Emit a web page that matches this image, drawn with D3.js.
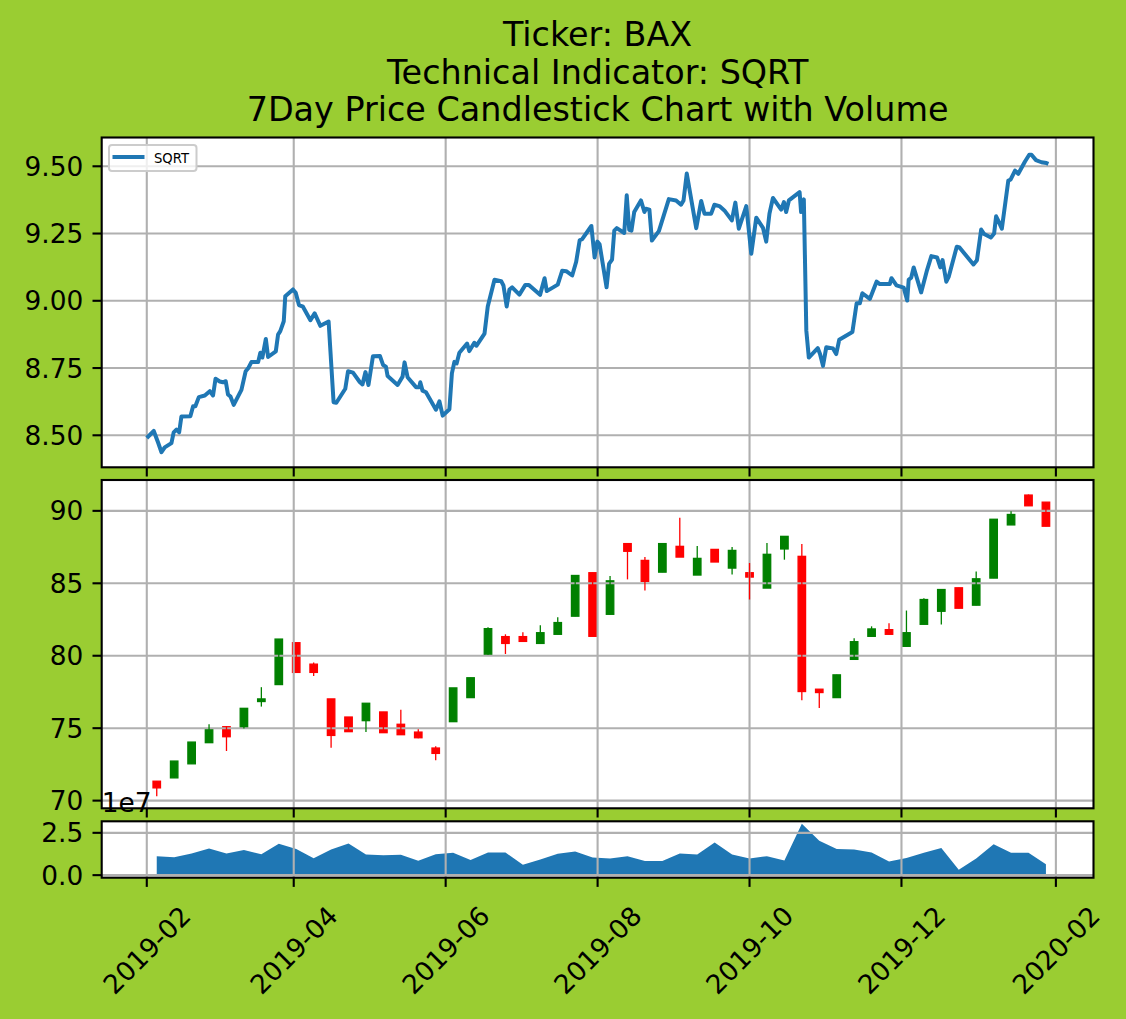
<!DOCTYPE html>
<html><head><meta charset="utf-8">
<script src="https://cdn.jsdelivr.net/npm/d3@7"></script>
<style>
body{margin:0;background:#9acd32}
svg{display:block}
text{font-family:"DejaVu Sans",sans-serif;fill:#000}
</style></head>
<body><svg id="chart" width="1126" height="1019"></svg>
<script>
// ---------------- DATA ----------------
const titleLines = ["Ticker: BAX", "Technical Indicator: SQRT", "7Day Price Candlestick Chart with Volume"];
const baseDate = "2019-02-01";           // day offsets below are counted from this date
const sqrtDays = [0,2.8,4.5,5.9,7.2,9.9,10.8,11.9,13.0,13.9,17.5,18.6,19.5,20.9,23.3,25.3,26.6,27.6,29.3,30.6,31.7,32.6,33.6,34.9,38.0,39.7,40.7,42.0,44.7,45.6,46.4,47.8,48.7,51.8,52.7,53.6,55.0,55.6,58.7,59.8,61.1,62.7,65.7,67.4,69.7,73.0,75.0,76.1,79.7,80.8,82.8,85.5,86.6,87.8,89.0,90.8,93.6,94.9,96.0,96.7,100.7,102.7,103.5,104.7,108.1,109.4,109.8,110.7,112.1,116.1,117.5,118.8,121.5,122.5,123.5,124.4,125.5,128.6,129.5,131.5,132.4,135.6,136.9,139.6,142.3,143.2,144.5,145.6,146.7,149.6,152.0,153.4,157.9,159.7,160.6,162.8,165.0,166.8,168.4,170.8,172.4,173.8,174.8,178.5,179.8,180.9,181.8,184.6,185.6,186.8,187.7,188.7,191.7,192.7,193.7,194.6,195.7,198.4,199.8,200.4,201.8,202.8,205.6,209.6,212.5,214.5,215.5,216.8,220.6,222.6,223.9,226.6,227.9,229.9,231.9,234.9,236.3,237.7,240.7,242.7,244.7,247.4,248.7,250.0,251.4,254.7,255.8,256.7,257.8,262.1,262.7,263.8,264.8,265.8,269.4,270.3,271.5,272.8,275.5,276.8,278.0,283.3,285.0,286.3,287.3,290.3,293.0,294.3,298.3,299.0,301.0,303.9,305.3,305.9,306.9,307.9,310.9,313.3,315.0,317.3,318.6,319.5,321.0,322.0,325.2,326.3,331.9,333.3,335.0,336.2,338.9,340.2,341.0,341.9,343.3,345.9,346.8,348.6,349.9,352.6,354.3,355.2,357.0,359.2,361.2,362];
const sqrtValues = [8.490,8.516,8.474,8.437,8.455,8.471,8.511,8.521,8.511,8.570,8.571,8.608,8.608,8.642,8.648,8.664,8.648,8.710,8.700,8.697,8.701,8.652,8.644,8.613,8.669,8.738,8.749,8.772,8.772,8.807,8.789,8.858,8.791,8.812,8.874,8.887,8.924,9.017,9.042,9.030,8.984,8.978,8.928,8.953,8.907,8.923,8.623,8.621,8.673,8.738,8.733,8.698,8.689,8.735,8.687,8.794,8.795,8.761,8.755,8.720,8.687,8.718,8.771,8.716,8.679,8.679,8.697,8.666,8.660,8.595,8.626,8.573,8.597,8.730,8.773,8.767,8.807,8.841,8.813,8.844,8.833,8.878,8.979,9.078,9.073,9.057,8.979,9.042,9.050,9.023,9.059,9.059,9.022,9.084,9.036,9.048,9.060,9.112,9.110,9.094,9.145,9.225,9.229,9.278,9.161,9.220,9.210,9.050,9.137,9.153,9.261,9.270,9.252,9.392,9.264,9.261,9.330,9.373,9.330,9.342,9.339,9.224,9.259,9.378,9.373,9.357,9.373,9.473,9.270,9.371,9.324,9.324,9.357,9.352,9.336,9.299,9.365,9.268,9.352,9.175,9.309,9.271,9.220,9.324,9.382,9.339,9.367,9.330,9.373,9.404,9.330,9.377,8.889,8.789,8.824,8.802,8.758,8.827,8.823,8.802,8.855,8.884,8.991,8.991,9.028,9.007,9.071,9.062,9.062,9.084,9.057,9.049,9.001,9.078,9.086,9.124,9.031,9.115,9.166,9.161,9.124,9.151,9.071,9.090,9.201,9.198,9.135,9.151,9.265,9.248,9.235,9.250,9.314,9.297,9.268,9.447,9.450,9.484,9.472,9.518,9.543,9.543,9.523,9.515,9.512,9.509];

const candleDates = ["2019-02-05","2019-02-12","2019-02-19","2019-02-26","2019-03-05","2019-03-12","2019-03-19","2019-03-26","2019-04-02","2019-04-09","2019-04-16","2019-04-23","2019-04-30","2019-05-07","2019-05-14","2019-05-21","2019-05-28","2019-06-04","2019-06-11","2019-06-18","2019-06-25","2019-07-02","2019-07-09","2019-07-16","2019-07-23","2019-07-30","2019-08-06","2019-08-13","2019-08-20","2019-08-27","2019-09-03","2019-09-10","2019-09-17","2019-09-24","2019-10-01","2019-10-08","2019-10-15","2019-10-22","2019-10-29","2019-11-05","2019-11-12","2019-11-19","2019-11-26","2019-12-03","2019-12-10","2019-12-17","2019-12-24","2019-12-31","2020-01-07","2020-01-14","2020-01-21","2020-01-28"];
const candleOpen  = [71.34,71.57,72.54,74.00,75.10,75.03,76.84,78.01,80.90,79.42,77.02,75.77,75.52,76.12,75.27,74.73,73.63,75.45,77.11,80.07,81.32,81.32,80.85,81.48,82.73,85.73,82.86,87.74,86.58,85.77,87.55,85.57,87.34,86.05,85.73,84.67,87.37,86.86,77.69,77.11,79.75,81.34,81.80,80.65,82.17,83.07,84.69,83.49,85.36,89.03,91.09,90.60];
const candleHigh  = [71.34,72.73,74.04,75.27,75.15,76.37,77.83,81.15,80.90,79.54,77.02,75.77,76.72,76.12,76.28,74.92,73.76,77.78,78.48,81.96,81.48,81.62,82.10,82.66,85.54,85.73,85.50,87.74,86.81,87.74,89.52,87.58,87.34,87.51,86.40,87.78,88.24,87.71,77.69,78.68,81.20,82.03,82.24,83.12,83.97,84.57,84.69,85.82,89.42,89.98,91.13,90.60];
const candleLow   = [70.30,71.57,72.54,74.00,73.42,74.98,76.49,78.01,78.85,78.61,73.65,74.76,74.73,74.69,74.55,74.30,72.79,75.45,77.11,80.07,80.12,80.99,80.85,81.48,82.73,81.34,82.86,85.27,84.50,85.77,86.81,85.57,86.47,85.61,83.88,84.67,86.63,76.93,76.40,77.11,79.75,81.34,81.48,80.65,82.17,82.15,83.28,83.49,85.36,89.03,90.35,88.94];
const candleClose = [70.88,72.73,74.04,74.97,74.41,76.37,77.02,81.15,78.85,78.85,74.50,74.76,76.72,74.69,74.55,74.34,73.26,77.78,78.48,81.87,80.85,80.99,81.59,82.29,85.54,81.34,85.17,87.21,85.13,87.74,86.81,86.72,86.47,87.27,85.43,87.00,88.24,77.53,77.46,78.68,80.97,81.85,81.48,81.59,83.88,84.57,83.28,85.31,89.42,89.75,90.35,88.94];
const volume = [1.12,1.06,1.28,1.58,1.28,1.48,1.24,1.85,1.54,1.00,1.52,1.87,1.22,1.18,1.20,0.85,1.24,1.32,0.89,1.34,1.34,0.61,0.93,1.26,1.40,1.04,0.98,1.12,0.83,0.83,1.28,1.22,1.93,1.22,0.98,1.12,0.87,3.03,2.03,1.54,1.52,1.34,0.81,1.02,1.32,1.60,0.32,0.98,1.83,1.32,1.32,0.65]; // x 1e7

const xTickDates  = ["2019-02-01","2019-04-01","2019-06-01","2019-08-01","2019-10-01","2019-12-01","2020-02-01"];
const xTickLabels = ["2019-02","2019-04","2019-06","2019-08","2019-10","2019-12","2020-02"];
const topTicks = [8.50, 8.75, 9.00, 9.25, 9.50];
const midTicks = [70, 75, 80, 85, 90];
const volTicks = [0.0, 2.5];
const legendLabel = "SQRT";
const volOffsetLabel = "1e7";

// ---------------- LAYOUT ----------------
const DAY = 864e5;
const parse = d3.utcParse("%Y-%m-%d");
const base = parse(baseDate);
const lineDates = sqrtDays.map(d => new Date(+base + d * DAY));
const cDates = candleDates.map(parse);

const L = 101.7, R = 1093.5;
const panels = {
  top: {y0: 137.5, y1: 467.3},
  mid: {y0: 480, y1: 808.3},
  vol: {y0: 821.3, y1: 877.7}
};
const GRID = "#b0b0b0", LW = 2.1, TICK = 9.2, FS = 26.4;

const ext = d3.extent(lineDates);
const pad = (ext[1] - ext[0]) * 0.05;
const x = d3.scaleUtc().domain([new Date(+ext[0] - pad), new Date(+ext[1] + pad)]).range([L, R]);

const yTop = d3.scaleLinear().domain([8.381, 9.607]).range([panels.top.y1, panels.top.y0]);
const yMid = d3.scaleLinear().domain([69.47, 92.13]).range([panels.mid.y1, panels.mid.y0]);
const volMax = d3.max(volume);
const yVol = d3.scaleLinear().domain([-volMax * 0.05, volMax * 1.05]).range([panels.vol.y1, panels.vol.y0]);

const svg = d3.select("#chart");
const defs = svg.append("defs");

function panel(name, p, yScale, yTicks, fmt, drawBelow, drawAbove) {
  const g = svg.append("g");
  defs.append("clipPath").attr("id", "clip-" + name)
    .append("rect").attr("x", L).attr("y", p.y0).attr("width", R - L).attr("height", p.y1 - p.y0);
  g.append("rect").attr("x", L).attr("y", p.y0).attr("width", R - L).attr("height", p.y1 - p.y0).attr("fill", "#fff");
  const inner = g.append("g").attr("clip-path", "url(#clip-" + name + ")");
  if (drawBelow) drawBelow(inner);
  const xt = xTickDates.map(parse);
  inner.selectAll(".gx").data(xt).join("line")
    .attr("x1", d => x(d)).attr("x2", d => x(d)).attr("y1", p.y0).attr("y2", p.y1)
    .attr("stroke", GRID).attr("stroke-width", LW);
  inner.selectAll(".gy").data(yTicks).join("line")
    .attr("x1", L).attr("x2", R).attr("y1", d => yScale(d)).attr("y2", d => yScale(d))
    .attr("stroke", GRID).attr("stroke-width", LW);
  if (drawAbove) drawAbove(inner);
  g.append("rect").attr("x", L).attr("y", p.y0).attr("width", R - L).attr("height", p.y1 - p.y0)
    .attr("fill", "none").attr("stroke", "#000").attr("stroke-width", LW);
  g.selectAll(".tx").data(xt).join("line")
    .attr("x1", d => x(d)).attr("x2", d => x(d)).attr("y1", p.y1).attr("y2", p.y1 + TICK)
    .attr("stroke", "#000").attr("stroke-width", LW);
  g.selectAll(".ty").data(yTicks).join("line")
    .attr("x1", L - TICK).attr("x2", L).attr("y1", d => yScale(d)).attr("y2", d => yScale(d))
    .attr("stroke", "#000").attr("stroke-width", LW);
  g.selectAll(".tl").data(yTicks).join("text")
    .attr("x", L - TICK - 9.2).attr("y", d => yScale(d)).attr("dy", "0.36em")
    .attr("text-anchor", "end").attr("font-size", FS).text(fmt);
  return g;
}

// title
svg.selectAll(".title").data(titleLines).join("text")
  .attr("x", (L + R) / 2).attr("y", (d, i) => 46 + i * 37.6)
  .attr("text-anchor", "middle").attr("font-size", 33.4).text(d => d);

// top panel
const gTop = panel("top", panels.top, yTop, topTicks, d3.format(".2f"), null, inner => {
  inner.append("path")
    .datum(lineDates.map((d, i) => [d, sqrtValues[i]]))
    .attr("fill", "none").attr("stroke", "#1f77b4").attr("stroke-width", 4)
    .attr("stroke-linejoin", "round")
    .attr("d", d3.line().x(d => x(d[0])).y(d => yTop(d[1])));
});
// legend
const lg = gTop.append("g");
lg.append("rect").attr("x", 109).attr("y", 145).attr("width", 87.5).attr("height", 26).attr("rx", 3)
  .attr("fill", "#fff").attr("fill-opacity", 0.8).attr("stroke", "#cccccc").attr("stroke-width", 2);
lg.append("line").attr("x1", 112.5).attr("x2", 144.5).attr("y1", 157).attr("y2", 157)
  .attr("stroke", "#1f77b4").attr("stroke-width", 4);
lg.append("text").attr("x", 154).attr("y", 162.5).attr("font-size", 13.2).text(legendLabel);

// candle panel
const bodyW = x(new Date(+cDates[0] + 3 * DAY)) - x(cDates[0]);
const candles = cDates.map((d, i) => ({d, o: candleOpen[i], h: candleHigh[i], l: candleLow[i], c: candleClose[i]}));
const col = c => c.c >= c.o ? "#008000" : "#ff0000";
panel("mid", panels.mid, yMid, midTicks, d3.format("d"), inner => {
  inner.selectAll(".body").data(candles).join("rect")
    .attr("x", c => x(c.d) - bodyW / 2).attr("width", bodyW)
    .attr("y", c => yMid(Math.max(c.o, c.c)))
    .attr("height", c => Math.max(1, Math.abs(yMid(c.o) - yMid(c.c))))
    .attr("fill", col).attr("stroke", col).attr("stroke-width", 1.3);
}, inner => {
  inner.selectAll(".wick").data(candles).join("line")
    .attr("x1", c => x(c.d)).attr("x2", c => x(c.d))
    .attr("y1", c => yMid(c.l)).attr("y2", c => yMid(c.h))
    .attr("stroke", col).attr("stroke-width", 1.3);
});

// volume panel
const gVol = panel("vol", panels.vol, yVol, volTicks, d3.format(".1f"), inner => {
  inner.append("path")
    .datum(cDates.map((d, i) => [d, volume[i]]))
    .attr("fill", "#1f77b4")
    .attr("d", d3.area().x(d => x(d[0])).y0(yVol(0)).y1(d => yVol(d[1])));
}, null);
gVol.append("text").attr("x", L).attr("y", 812).attr("font-size", FS).text(volOffsetLabel);
gVol.selectAll(".xl").data(xTickDates.map(parse)).join("text")
  .attr("transform", d => `translate(${x(d)},950) rotate(-45)`)
  .attr("text-anchor", "middle").attr("dy", "0.36em").attr("font-size", FS)
  .text((d, i) => xTickLabels[i]);
</script></body></html>
